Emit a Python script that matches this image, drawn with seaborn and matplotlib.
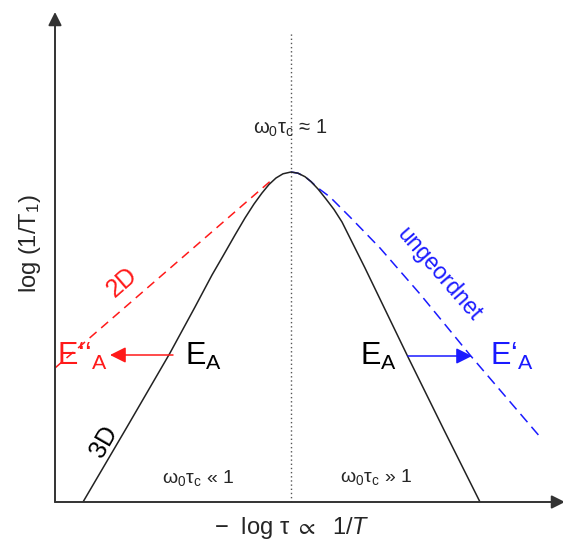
import matplotlib
matplotlib.use("Agg")
import matplotlib.pyplot as plt
import seaborn as sns
import pandas as pd

# Schematic relaxation-rate curve, coordinates in plot units (x: -log tau, y: log 1/T1)
curve_3d_x = [28, 72, 115, 140, 157, 168, 180, 190, 199, 207, 214, 221, 228, 236,
              243, 250, 256, 263, 271, 279, 287, 297, 310, 353, 389, 425]
curve_3d_y = [0, 75, 149, 195, 227, 246, 267, 284, 298, 309, 317.5, 324, 328.2, 330,
              328.8, 325.3, 320.4, 313, 303, 292.5, 280, 260, 234, 145, 72, 0]

# 2D dashed asymptote on the low-temperature side
line_2d_x = [0, 219]
line_2d_y = [134, 324]

# disordered ("ungeordnet") dashed branch on the high-temperature side
line_dis_x = [236, 243, 250, 256, 263, 275, 295, 325, 365, 415, 486]
line_dis_y = [330, 328.8, 325.3, 320.4, 314, 305, 285, 254, 208, 147, 64]

peak_x = 236
x_max, y_max = 508, 490

sns.set_theme(style="white")
plt.rcParams["font.family"] = ["Liberation Sans", "DejaVu Sans"]
plt.rcParams["mathtext.fontset"] = "custom"
plt.rcParams["mathtext.rm"] = "Liberation Sans"
plt.rcParams["mathtext.it"] = "Liberation Sans:italic"
plt.rcParams["mathtext.bf"] = "Liberation Sans:bold"
plt.rcParams["mathtext.fallback"] = "stixsans"

fig = plt.figure(figsize=(5.63, 5.49), dpi=100)
ax = fig.add_axes([55 / 563, 47 / 549, 508 / 563, 490 / 549])
ax.set_xlim(0, x_max)
ax.set_ylim(0, y_max)
ax.axis("off")

df_3d = pd.DataFrame({"x": curve_3d_x, "y": curve_3d_y})
df_2d = pd.DataFrame({"x": line_2d_x, "y": line_2d_y})
df_dis = pd.DataFrame({"x": line_dis_x, "y": line_dis_y})

# vertical dotted line at omega0*tau_c = 1
ax.plot([peak_x, peak_x], [0, 470], color="#555555", lw=1.0,
        linestyle=(0, (1, 2)), zorder=1)

sns.lineplot(data=df_2d, x="x", y="y", sort=False, estimator=None,
             color="#ff1a1a", lw=1.1, ax=ax, zorder=2)
ax.lines[-1].set_dashes([6, 4])
sns.lineplot(data=df_dis, x="x", y="y", sort=False, estimator=None,
             color="#1a1aff", lw=1.1, ax=ax, zorder=2)
ax.lines[-1].set_dashes([7, 4])
sns.lineplot(data=df_3d, x="x", y="y", sort=False, estimator=None,
             color="#222222", lw=1.1, ax=ax, zorder=3)

# axes with arrow heads
axis_kw = dict(arrowstyle="-|>", color="#333333", lw=1.4,
               mutation_scale=20, shrinkA=0, shrinkB=0)
ax.annotate("", xy=(0, y_max), xytext=(0, 0), arrowprops=axis_kw,
            annotation_clip=False)
ax.annotate("", xy=(x_max + 2, 0), xytext=(0, 0), arrowprops=axis_kw,
            annotation_clip=False)

# activation-energy shift arrows
ax.annotate("", xy=(55, 147), xytext=(118, 147),
            arrowprops=dict(arrowstyle="-|>,head_length=0.6,head_width=0.3",
                            color="#ff1a1a", lw=1.1, mutation_scale=16,
                            shrinkA=0, shrinkB=0))
ax.annotate("", xy=(417, 146), xytext=(353, 146),
            arrowprops=dict(arrowstyle="-|>,head_length=0.6,head_width=0.3",
                            color="#1a1aff", lw=1.1, mutation_scale=16,
                            shrinkA=0, shrinkB=0))

big = 22
ax.text(130, 137, r"$\mathregular{E_A}$", fontsize=big, color="black",
        ha="left", va="baseline")
ax.text(305, 137, r"$\mathregular{E_A}$", fontsize=big, color="black",
        ha="left", va="baseline")
ax.text(2, 137, r"$\mathregular{E‘‘_A}$", fontsize=big, color="#ff1a1a",
        ha="left", va="baseline")
ax.text(435, 137, r"$\mathregular{E‘_A}$", fontsize=big, color="#1a1aff",
        ha="left", va="baseline")

ax.text(67, 220, "2D", fontsize=18, color="#ff1a1a", rotation=41,
        rotation_mode="anchor", ha="center", va="center")
ax.text(49, 60, "3D", fontsize=18, color="black", rotation=60,
        rotation_mode="anchor", ha="center", va="center")
ax.text(384, 228, "ungeordnet", fontsize=16.5, color="#1a1aff", rotation=-49,
        rotation_mode="anchor", ha="center", va="center")

ax.text(235, 374, r"$\mathregular{ω_0τ_c}$ ≈ 1", fontsize=14.5,
        ha="center", va="center")
ax.text(143, 24, r"$\mathregular{ω_0τ_c}$ « 1", fontsize=14,
        ha="center", va="center")
ax.text(321, 25, r"$\mathregular{ω_0τ_c}$ » 1", fontsize=14,
        ha="center", va="center")

fig.text(292 / 563, 1 - 528 / 549,
         r"$-$  log τ $\propto$  1/$\mathit{T}$",
         fontsize=17, ha="center", va="center")
fig.text(30 / 563, 1 - 244 / 549, r"log (1/T$_\mathregular{1}$)",
         fontsize=17, rotation=90, ha="center", va="center")

fig.savefig("out.png", dpi=100)
